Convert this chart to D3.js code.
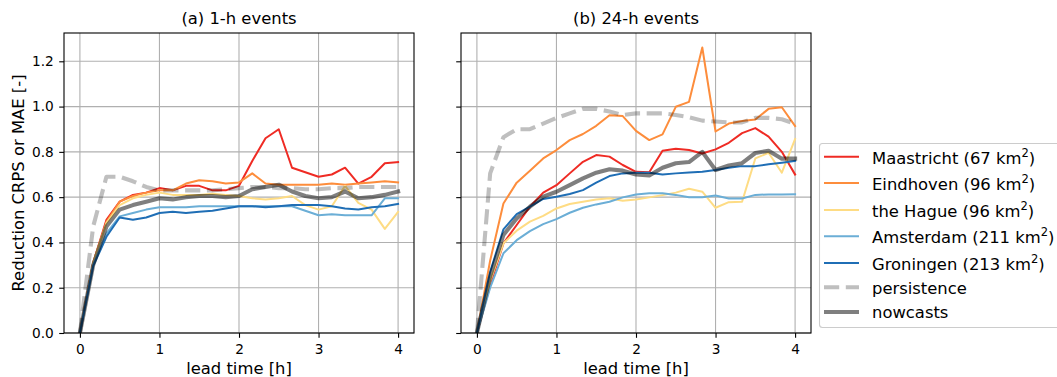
<!DOCTYPE html>
<html>
<head>
<meta charset="utf-8">
<script src="https://cdn.jsdelivr.net/npm/d3@7"></script>
<style>
  html, body { margin: 0; padding: 0; background: #fff; }
  svg { display: block; font-family: "DejaVu Sans", sans-serif; }
</style>
</head>
<body>
<svg id="chart" width="1057" height="377"></svg>
<script>
// Lead times in minutes (10-minute steps up to 4 h)
const leadMinutes = [0, 10, 20, 30, 40, 50, 60, 70, 80, 90, 100, 110, 120,
                     130, 140, 150, 160, 170, 180, 190, 200, 210, 220, 230, 240];

// (a) 1-h events
const a_maastricht = [0, 0.31, 0.50, 0.58, 0.61, 0.62, 0.64, 0.63, 0.65, 0.65, 0.63, 0.63, 0.65, 0.76, 0.86, 0.90, 0.73, 0.71, 0.69, 0.70, 0.73, 0.66, 0.69, 0.75, 0.755];
const a_eindhoven  = [0, 0.31, 0.49, 0.58, 0.605, 0.62, 0.63, 0.63, 0.66, 0.675, 0.67, 0.66, 0.665, 0.705, 0.66, 0.655, 0.655, 0.655, 0.655, 0.66, 0.655, 0.66, 0.665, 0.67, 0.665];
const a_hague      = [0, 0.31, 0.485, 0.565, 0.595, 0.61, 0.62, 0.61, 0.61, 0.61, 0.615, 0.61, 0.605, 0.595, 0.59, 0.595, 0.605, 0.565, 0.545, 0.56, 0.65, 0.575, 0.545, 0.46, 0.535];
const a_amsterdam  = [0, 0.30, 0.44, 0.515, 0.53, 0.545, 0.555, 0.555, 0.555, 0.56, 0.56, 0.56, 0.56, 0.56, 0.56, 0.56, 0.56, 0.54, 0.52, 0.525, 0.52, 0.52, 0.52, 0.595, 0.595];
const a_groningen  = [0, 0.295, 0.425, 0.51, 0.50, 0.51, 0.53, 0.535, 0.53, 0.535, 0.54, 0.55, 0.56, 0.56, 0.555, 0.56, 0.565, 0.565, 0.565, 0.56, 0.55, 0.545, 0.555, 0.56, 0.57];
const a_persistence= [0, 0.47, 0.69, 0.69, 0.67, 0.645, 0.63, 0.63, 0.63, 0.63, 0.63, 0.635, 0.64, 0.645, 0.645, 0.64, 0.64, 0.635, 0.635, 0.64, 0.64, 0.645, 0.645, 0.645, 0.645];
const a_nowcasts   = [0, 0.30, 0.47, 0.545, 0.565, 0.58, 0.595, 0.59, 0.60, 0.605, 0.605, 0.60, 0.605, 0.635, 0.645, 0.655, 0.625, 0.605, 0.595, 0.60, 0.625, 0.595, 0.60, 0.61, 0.625];

// (b) 24-h events
const b_maastricht = [0, 0.21, 0.396, 0.477, 0.558, 0.62, 0.653, 0.705, 0.756, 0.786, 0.779, 0.742, 0.712, 0.71, 0.805, 0.814, 0.808, 0.793, 0.811, 0.84, 0.883, 0.905, 0.867, 0.80, 0.70];
const b_eindhoven  = [0, 0.32, 0.572, 0.664, 0.717, 0.771, 0.808, 0.852, 0.879, 0.915, 0.962, 0.958, 0.893, 0.852, 0.877, 0.999, 1.021, 1.261, 0.89, 0.925, 0.936, 0.943, 0.99, 0.997, 0.914];
const b_hague      = [0, 0.23, 0.396, 0.452, 0.492, 0.517, 0.55, 0.57, 0.58, 0.59, 0.595, 0.584, 0.59, 0.599, 0.609, 0.62, 0.637, 0.624, 0.553, 0.578, 0.58, 0.771, 0.796, 0.708, 0.857];
const b_amsterdam  = [0, 0.20, 0.352, 0.41, 0.45, 0.481, 0.503, 0.531, 0.553, 0.568, 0.58, 0.599, 0.612, 0.617, 0.617, 0.61, 0.60, 0.60, 0.607, 0.594, 0.594, 0.61, 0.612, 0.612, 0.613];
const b_groningen  = [0, 0.27, 0.458, 0.525, 0.558, 0.592, 0.602, 0.614, 0.631, 0.664, 0.693, 0.705, 0.708, 0.708, 0.70, 0.705, 0.709, 0.712, 0.72, 0.73, 0.737, 0.737, 0.745, 0.752, 0.76];
const b_persistence= [0, 0.705, 0.865, 0.90, 0.90, 0.925, 0.95, 0.97, 0.99, 0.99, 0.978, 0.963, 0.97, 0.97, 0.97, 0.963, 0.953, 0.938, 0.934, 0.93, 0.93, 0.95, 0.95, 0.944, 0.924];
const b_nowcasts   = [0, 0.25, 0.433, 0.506, 0.558, 0.602, 0.624, 0.653, 0.683, 0.708, 0.723, 0.717, 0.70, 0.696, 0.73, 0.75, 0.755, 0.80, 0.72, 0.74, 0.75, 0.795, 0.805, 0.77, 0.77];

const seriesNames = ["Maastricht", "Eindhoven", "the Hague", "Amsterdam", "Groningen", "persistence", "nowcasts"];
const areaLabels  = ["67", "96", "96", "211", "213"];
const panelTitles = ["(a) 1-h events", "(b) 24-h events"];
const xTicks = [0, 1, 2, 3, 4];
const yTicks = [0.0, 0.2, 0.4, 0.6, 0.8, 1.0, 1.2];

const cityColors = ["#ef2b24", "#fd8d3c", "#fedc84", "#6baed6", "#1f6eb5"];

const styles = [
  { stroke: cityColors[0], width: 2, opacity: 1 },
  { stroke: cityColors[1], width: 2, opacity: 1 },
  { stroke: cityColors[2], width: 2, opacity: 1 },
  { stroke: cityColors[3], width: 2, opacity: 1 },
  { stroke: cityColors[4], width: 2, opacity: 1 },
  { stroke: "#000", width: 4.1, opacity: 0.25, dash: "15.2,6.6" },
  { stroke: "#000", width: 4.1, opacity: 0.5 }
];

const panels = [
  [a_maastricht, a_eindhoven, a_hague, a_amsterdam, a_groningen, a_persistence, a_nowcasts],
  [b_maastricht, b_eindhoven, b_hague, b_amsterdam, b_groningen, b_persistence, b_nowcasts]
];

const svg = d3.select("#chart");
const plotTop = 33, plotBottom = 333;
const panelX = [[64, 414], [461, 811]];
const y = d3.scaleLinear().domain([0, 1.325]).range([plotBottom, plotTop]);
const leadHours = leadMinutes.map(m => m / 60);

panels.forEach((series, p) => {
  const [x0, x1] = panelX[p];
  const x = d3.scaleLinear().domain([-0.2, 4.2]).range([x0, x1]);
  const g = svg.append("g");

  // grid
  g.append("g").selectAll("line").data(xTicks).join("line")
    .attr("x1", d => x(d)).attr("x2", d => x(d))
    .attr("y1", plotTop).attr("y2", plotBottom)
    .attr("stroke", "#b0b0b0").attr("stroke-width", 1.1);
  g.append("g").selectAll("line").data(yTicks).join("line")
    .attr("x1", x0).attr("x2", x1)
    .attr("y1", d => y(d)).attr("y2", d => y(d))
    .attr("stroke", "#b0b0b0").attr("stroke-width", 1.1);

  // series
  const clipId = "clip" + p;
  svg.append("clipPath").attr("id", clipId).append("rect")
    .attr("x", x0).attr("y", plotTop).attr("width", x1 - x0).attr("height", plotBottom - plotTop);
  const line = d3.line().x((d, i) => x(leadHours[i])).y(d => y(d));
  const lines = g.append("g").attr("clip-path", `url(#${clipId})`);
  series.forEach((vals, s) => {
    const st = styles[s];
    lines.append("path").datum(vals)
      .attr("d", line)
      .attr("fill", "none")
      .attr("stroke", st.stroke)
      .attr("stroke-width", st.width)
      .attr("stroke-opacity", st.opacity)
      .attr("stroke-linejoin", "round")
      .attr("stroke-linecap", st.dash ? "butt" : "square")
      .attr("stroke-dasharray", st.dash || null);
  });

  // axes
  const xAxis = d3.axisBottom(x).tickValues(xTicks).tickFormat(d3.format("d")).tickSize(4.8).tickPadding(6);
  const gx = g.append("g").attr("transform", `translate(0,${plotBottom})`).call(xAxis);
  const yAxis = d3.axisLeft(y).tickValues(yTicks).tickFormat(p === 0 ? d3.format(".1f") : () => "").tickSize(4.8).tickPadding(5.5);
  const gy = g.append("g").attr("transform", `translate(${x0},0)`).call(yAxis);
  [gx, gy].forEach(ax => {
    ax.select(".domain").remove();
    ax.selectAll(".tick line").attr("stroke", "#000").attr("stroke-width", 1.1);
    ax.selectAll(".tick text").attr("fill", "#000").style("font-size", "13.7px").style("font-family", "DejaVu Sans");
  });

  // frame
  g.append("rect").attr("x", x0).attr("y", plotTop).attr("width", x1 - x0).attr("height", plotBottom - plotTop)
    .attr("fill", "none").attr("stroke", "#000").attr("stroke-width", 1.1);

  // title and x label
  g.append("text").attr("x", (x0 + x1) / 2).attr("y", 24).attr("text-anchor", "middle")
    .style("font-size", "16.4px").text(panelTitles[p]);
  g.append("text").attr("x", (x0 + x1) / 2).attr("y", 374).attr("text-anchor", "middle")
    .style("font-size", "16.4px").text("lead time [h]");
});

// y label
svg.append("text").attr("transform", "translate(24,183) rotate(-90)")
  .attr("text-anchor", "middle").style("font-size", "16.4px").text("Reduction CRPS or MAE [-]");

// legend
const leg = svg.append("g");
leg.append("rect").attr("x", 819.5).attr("y", 143.5).attr("width", 260).attr("height", 184)
  .attr("rx", 3).attr("fill", "#fff").attr("fill-opacity", 0.8).attr("stroke", "#cccccc").attr("stroke-width", 1.1);
const rowY = [156.7, 183, 210, 236.3, 263, 287.3, 312];
seriesNames.forEach((name, i) => {
  const st = styles[i];
  leg.append("line").attr("x1", 824).attr("x2", 859).attr("y1", rowY[i]).attr("y2", rowY[i])
    .attr("stroke", st.stroke).attr("stroke-width", st.width).attr("stroke-opacity", st.opacity)
    .attr("stroke-dasharray", st.dash || null);
  const t = leg.append("text").attr("x", 872).attr("y", rowY[i] + (i < 5 ? 7 : 6.3)).style("font-size", "16.4px");
  if (i < 5) {
    t.append("tspan").text(`${name} (${areaLabels[i]} km`);
    t.append("tspan").attr("dy", -7).style("font-size", "11.5px").text("2");
    t.append("tspan").attr("dy", 7).text(")");
  } else {
    t.text(name);
  }
});
</script>
</body>
</html>
